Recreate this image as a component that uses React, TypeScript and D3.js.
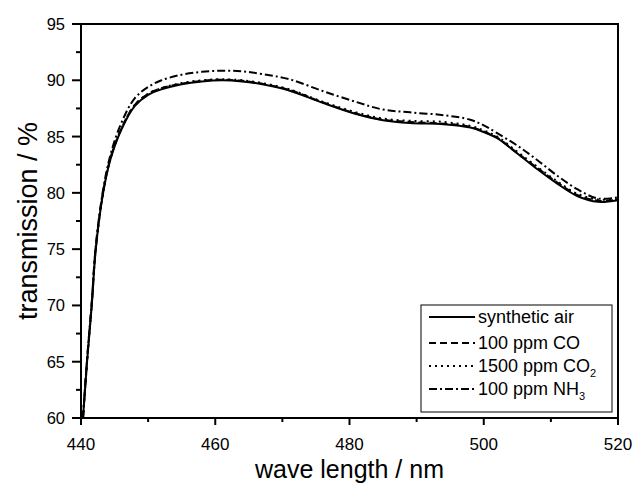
import React from "react";
import * as d3 from "d3";

// wavelength grid (nm) shared by all series
const wavelengths = [440.3, 440.9, 441.6, 442.2, 443.3, 444.4, 446, 448, 450, 452, 455, 458, 461, 464, 467, 471, 476, 481, 485, 489, 494, 498, 500, 502, 505, 508, 511, 514, 517, 520];

const syntheticAir = [60, 65, 70, 75, 80, 83, 85.6, 87.7, 88.7, 89.2, 89.65, 89.9, 90.0, 89.9, 89.65, 89.1, 88.0, 87.0, 86.45, 86.2, 86.1, 85.8, 85.4, 84.85, 83.5, 82.1, 80.8, 79.7, 79.2, 79.35];
const co100 = [60, 65.1, 70.1, 75.1, 80.1, 83.1, 85.7, 87.8, 88.8, 89.3, 89.7, 89.95, 90.05, 89.95, 89.7, 89.15, 88.05, 87.05, 86.5, 86.3, 86.15, 85.85, 85.45, 84.9, 83.55, 82.2, 80.9, 79.8, 79.3, 79.4];
const co2_1500 = [60, 64.9, 70, 75, 80, 83.05, 85.7, 87.8, 88.8, 89.3, 89.75, 90.0, 90.1, 90.0, 89.75, 89.2, 88.1, 87.15, 86.6, 86.4, 86.3, 85.95, 85.55, 85.0, 83.65, 82.3, 81.0, 79.9, 79.4, 79.45];
const nh3_100 = [60, 65.2, 70.3, 75.3, 80.3, 83.4, 86.2, 88.4, 89.4, 90.0, 90.5, 90.75, 90.85, 90.8, 90.55, 90.1, 89.05, 88.07, 87.4, 87.15, 86.9, 86.5, 86.0, 85.3, 84.2, 82.9, 81.5, 80.3, 79.5, 79.6];

const xTicks = [440, 460, 480, 500, 520];
const xMinor = [450, 470, 490, 510];
const yTicks = [60, 65, 70, 75, 80, 85, 90, 95];
const yMinor = [62.5, 67.5, 72.5, 77.5, 82.5, 87.5, 92.5];

const series = [
  { label: "synthetic air", values: syntheticAir, dash: "none" },
  { label: "100 ppm CO", values: co100, dash: "7,4" },
  { label: "1500 ppm CO", sub: "2", values: co2_1500, dash: "2,4" },
  { label: "100 ppm NH", sub: "3", values: nh3_100, dash: "8,3,2,3" },
];

const W = 638;
const H = 484;
const m = { left: 81, right: 20, top: 24, bottom: 66 };
const font = "'Liberation Sans', Arial, sans-serif";

export default function App() {
  const x = d3.scaleLinear().domain([440, 520]).range([m.left, W - m.right]);
  const y = d3.scaleLinear().domain([60, 95]).range([H - m.bottom, m.top]);

  const line = d3
    .line<number>()
    .x((_, i) => x(wavelengths[i]))
    .y((v) => y(v))
    .curve(d3.curveCatmullRom.alpha(0.5));

  const x0 = x(440), x1 = x(520), y0 = y(60), y1 = y(95);

  // legend box
  const lg = { x: 421, y: 305, w: 191, h: 107 };
  const rowY = [317, 343, 366, 389];

  return (
    <svg width={W} height={H} style={{ position: "absolute", left: 0, top: 0, background: "#fff" }} fontFamily={font}>
      <rect width={W} height={H} fill="#fff" />
      <defs>
        <clipPath id="plot">
          <rect x={x0} y={y1} width={x1 - x0} height={y0 - y1} />
        </clipPath>
      </defs>

      {/* curves */}
      <g clipPath="url(#plot)">
        {series.map((s) => (
          <path key={s.label + (s.sub || "")} d={line(s.values) || ""} fill="none" stroke="#000" strokeWidth={2} strokeDasharray={s.dash} />
        ))}
      </g>

      {/* frame */}
      <rect x={x0} y={y1} width={x1 - x0} height={y0 - y1} fill="none" stroke="#000" strokeWidth={2} />

      {/* y ticks */}
      {yTicks.map((t) => (
        <g key={"y" + t}>
          <line x1={x0 - 9} x2={x0} y1={y(t)} y2={y(t)} stroke="#000" strokeWidth={2} />
          <text x={x0 - 16} y={y(t)} dy="0.36em" textAnchor="end" fontSize={16.5}>{t}</text>
        </g>
      ))}
      {yMinor.map((t) => (
        <line key={"ym" + t} x1={x0 - 5} x2={x0} y1={y(t)} y2={y(t)} stroke="#000" strokeWidth={2} />
      ))}

      {/* x ticks */}
      {xTicks.map((t) => (
        <g key={"x" + t}>
          <line x1={x(t)} x2={x(t)} y1={y0} y2={y0 + 7} stroke="#000" strokeWidth={2} />
          <text x={x(t)} y={y0 + 32} textAnchor="middle" fontSize={17}>{t}</text>
        </g>
      ))}
      {xMinor.map((t) => (
        <line key={"xm" + t} x1={x(t)} x2={x(t)} y1={y0} y2={y0 + 4} stroke="#000" strokeWidth={2} />
      ))}

      {/* axis titles */}
      <text x={(x0 + x1) / 2} y={478} textAnchor="middle" fontSize={25}>wave length / nm</text>
      <text transform={`translate(37,${(y0 + y1) / 2}) rotate(-90)`} textAnchor="middle" fontSize={27}>transmission / %</text>

      {/* legend */}
      <rect x={lg.x} y={lg.y} width={lg.w} height={lg.h} fill="#fff" stroke="#000" strokeWidth={1} />
      {series.map((s, i) => (
        <g key={"lg" + i}>
          <line x1={429} x2={475} y1={rowY[i]} y2={rowY[i]} stroke="#000" strokeWidth={2} strokeDasharray={s.dash} />
          <text x={478} y={rowY[i]} dy="0.35em" fontSize={18}>
            {s.label}
            {s.sub && <tspan fontSize={11} dy="5">{s.sub}</tspan>}
          </text>
        </g>
      ))}
    </svg>
  );
}
